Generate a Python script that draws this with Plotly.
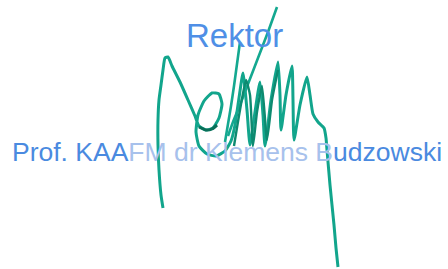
import plotly.graph_objects as go

# Signature strokes (image pixel coordinates, y grows downward)
main_x = [163, 161, 159, 158, 158, 159, 161, 163, 165, 168, 172, 180, 188, 195, 199, 206, 213, 219, 222, 219, 212,
          204, 198, 196, 199, 207, 216, 225, 231, 235, 239, 243, 247, 250, 255, 260, 263, 265, 271, 278, 280, 281,
          286, 292, 293, 294, 300, 307, 310, 313, 318, 324, 326, 327, 330, 334, 336, 338]
main_y = [208, 195, 170, 145, 120, 100, 85, 70, 58, 57, 66, 82, 100, 116, 126, 130, 128, 118, 104, 94, 93,
          101, 115, 132, 146, 154, 156, 151, 141, 125, 98, 73, 110, 145, 112, 82, 115, 146, 100, 62, 95, 130,
          95, 66, 100, 140, 105, 77, 95, 114, 122, 128, 138, 150, 185, 225, 248, 267]
long1_x = [277, 268, 258, 248, 240, 233, 228]
long1_y = [7, 32, 58, 84, 105, 122, 136]
long2_x = [240, 237, 234, 231, 228, 225]
long2_y = [42, 64, 86, 106, 124, 142]
dark_x = [199, 206, 212, 217]
dark_y = [127, 130, 129, 125]
extra_x = [234, 240, 246, 250, 253, 257, 262, 267, 272, 278]
extra_y = [146, 110, 80, 95, 146, 112, 86, 140, 100, 70]

title_text = "Rektor"
name_parts = ["Prof. KAA", "FM dr Klemens B", "udzowski"]
name_colors = ["#4a8ae0", "#a7c1ec", "#4a8ae0"]

fig = go.Figure()
for xs, ys, col, w in [(main_x, main_y, "#12a58c", 3), (long1_x, long1_y, "#14a890", 2.6),
                       (long2_x, long2_y, "#14a890", 2.6), (extra_x, extra_y, "#0d8a70", 2.4),
                       (dark_x, dark_y, "#0a6f58", 3)]:
    fig.add_trace(go.Scatter(x=xs, y=ys, mode="lines",
                             line=dict(color=col, width=w, shape="spline", smoothing=0.5),
                             hoverinfo="skip", showlegend=False))

font_family = "Liberation Sans, Arial, sans-serif"
fig.add_annotation(x=234.5, y=35, xref="x", yref="y", text=title_text, showarrow=False,
                   xanchor="center", yanchor="middle",
                   font=dict(family=font_family, size=33, color="#4f8fe6"))
name_html = "".join(f'<span style="color:{c}">{t}</span>' for t, c in zip(name_parts, name_colors))
fig.add_annotation(x=226.5, y=152, xref="x", yref="y", text=name_html, showarrow=False,
                   xanchor="center", yanchor="middle",
                   font=dict(family=font_family, size=26.5, color="#4a8ae0"))

fig.update_layout(width=448, height=269, margin=dict(l=0, r=0, t=0, b=0),
                  paper_bgcolor="white", plot_bgcolor="white")
fig.update_xaxes(range=[0, 448], visible=False, fixedrange=True)
fig.update_yaxes(range=[269, 0], visible=False, fixedrange=True)
fig.write_html("out.html", config={"displayModeBar": False},
               post_script="document.body.style.margin='0';document.body.style.overflow='hidden';")
